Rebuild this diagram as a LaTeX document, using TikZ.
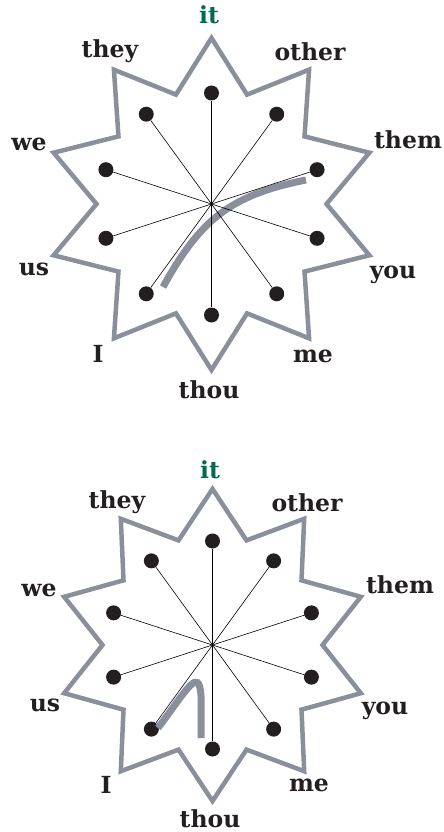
\documentclass[tikz,border=0pt]{standalone}
\usepackage{fontspec}
\setmainfont{DejaVu Serif}
\definecolor{stargray}{HTML}{8A8F9C}
\definecolor{itgreen}{HTML}{006B4F}
\definecolor{dotblack}{HTML}{231F20}
\tikzset{
  starline/.style={draw=stargray, line width=4.5pt, line join=miter},
  spoke/.style={draw=black, line width=0.6pt},
  dotnode/.style={circle, fill=dotblack, minimum size=15pt, inner sep=0pt},
  lab/.style={font=\bfseries\fontsize{23.5}{23.5}\selectfont, anchor=base, inner sep=0pt, text=dotblack},
  itlab/.style={lab, text=itgreen},
  trace/.style={draw=stargray, line width=7pt},
}
% #1 cx, #2 cy, #3 outer R, #4 inner r, #5 dot radius, #6 prefix
\newcommand\drawstarfig[6]{%
  \draw[starline] ({#1+#3*cos(90)},{#2-#3*sin(90)})
    \foreach \k in {0,...,8} { -- ({#1+#4*cos(72-36*\k)},{#2-#4*sin(72-36*\k)})
                               -- ({#1+#3*cos(54-36*\k)},{#2-#3*sin(54-36*\k)}) }
    -- ({#1+#4*cos(108)},{#2-#4*sin(108)}) -- cycle;
  \coordinate (#6c) at (#1,#2);
  \foreach \a/\n in {90/it,54/other,18/them,-18/you,-54/me,-90/thou,-126/I,198/us,162/we,126/they} {
    \node[dotnode] (#6\n) at ({#1+#5*cos(\a)},{#2-#5*sin(\a)}) {};
  }
}
\newcommand\drawspokes[1]{%
  \foreach \n in {it,other,them,you,me,thou,I,us,we,they} {
    \draw[spoke] (#1c) -- (#1\n);
  }
}
\begin{document}
\begin{tikzpicture}[x=1pt,y=-1pt]
\useasboundingbox (0,0) rectangle (444,832);
% ---------- top star ----------
\drawstarfig{211.5}{204}{166}{115}{111}{a}
\draw[trace] (306,180) .. controls (230,195) and (200,220) .. (163,287);
\drawspokes{a}
\node[itlab] (la-it) at (209,24) {it};
\node[lab] (la-they) at (110,58) {they};
\node[lab] (la-other) at (310,61) {other};
\node[lab] (la-we) at (29,150) {we};
\node[lab] (la-them) at (408,148) {them};
\node[lab] (la-us) at (34,275) {us};
\node[lab] (la-you) at (393,278) {you};
\node[lab] (la-I) at (98,362) {I};
\node[lab] (la-me) at (313,362) {me};
\node[lab] (la-thou) at (209,398) {thou};
% ---------- bottom star ----------
\drawstarfig{212.5}{645}{156}{110}{104}{b}
\draw[trace] (158,728) .. controls (188,688) and (199,666) .. (201,696) -- (201,738);
\drawspokes{b}
\node[itlab] (lb-it) at (210,478) {it};
\node[lab] (lb-they) at (117,508) {they};
\node[lab] (lb-other) at (307,511) {other};
\node[lab] (lb-we) at (39,596) {we};
\node[lab] (lb-them) at (400,593) {them};
\node[lab] (lb-us) at (45,711) {us};
\node[lab] (lb-you) at (385,714) {you};
\node[lab] (lb-I) at (106,793) {I};
\node[lab] (lb-me) at (309,791) {me};
\node[lab] (lb-thou) at (210,827) {thou};
\end{tikzpicture}
\end{document}
